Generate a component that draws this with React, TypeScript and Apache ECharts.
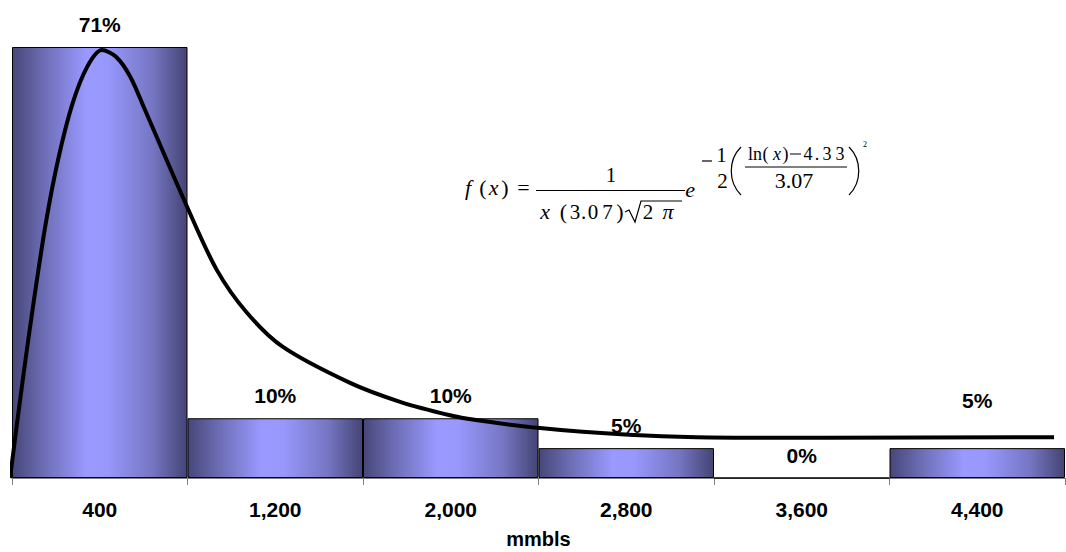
import React, { useEffect, useRef } from "react";
import * as echarts from "echarts";

const categories = ["400", "1,200", "2,000", "2,800", "3,600", "4,400"];
const shares = [0.707, 0.098, 0.098, 0.049, 0, 0.049];
const axisName = "mmbls";
// lognormal fit curve (x in mmbls, y as share)
const curveX = [-9, 46, 100, 155, 210, 274, 342, 410, 474, 538, 606, 798, 934, 1071, 1235, 1541, 1769, 1996, 2115, 2407, 2812, 3122, 3706, 4750];
const curveY = [0, 0.153, 0.292, 0.42, 0.522, 0.612, 0.674, 0.702, 0.691, 0.659, 0.604, 0.445, 0.341, 0.271, 0.215, 0.156, 0.125, 0.103, 0.095, 0.082, 0.071, 0.067, 0.066, 0.067];
const xMax = 4800;

const SERIF = "Liberation Serif";
const SANS = "Liberation Sans";

function t(text: string, cx: number, baseline: number, size: number, italic = false) {
  return {
    type: "text",
    x: cx,
    y: baseline - size * 0.33,
    style: {
      text,
      fontFamily: SERIF,
      fontSize: size,
      fontStyle: italic ? "italic" : "normal",
      fill: "#000",
      align: "center",
      verticalAlign: "middle",
    },
  };
}
function ln(x1: number, y1: number, x2: number, y2: number, w = 1.2) {
  return { type: "line", shape: { x1, y1, x2, y2 }, style: { stroke: "#000", lineWidth: w } };
}

export default function App() {
  const ref = useRef<HTMLDivElement>(null);
  useEffect(() => {
    const chart = echarts.init(ref.current!, null, { renderer: "svg" });
    const barGrad = new echarts.graphic.LinearGradient(0, 0, 1, 0, [
      { offset: 0, color: "#474779" },
      { offset: 0.18, color: "#6d6db5" },
      { offset: 0.42, color: "#9999ff" },
      { offset: 0.55, color: "#9797fc" },
      { offset: 0.8, color: "#7676c4" },
      { offset: 1, color: "#444474" },
    ]);
    const formula = [
      t("f", 468, 195, 22, true),
      t("(", 483, 195, 22),
      t("x", 493.5, 195, 22, true),
      t(")", 505, 195, 22),
      t("=", 523.5, 195, 22),
      ln(536, 190.5, 685, 190.5),
      t("1", 611, 182, 21),
      t("x", 545, 219, 22, true),
      t("(", 563.5, 219, 22),
      t("3", 575, 219, 21),
      t(".", 583.5, 219, 21),
      t("0", 593, 219, 21),
      t("7", 607.5, 219, 21),
      t(")", 620, 219, 22),
      {
        type: "polyline",
        shape: { points: [[625, 212], [629, 210], [635, 222], [641, 201], [682, 201]] },
        style: { stroke: "#000", lineWidth: 1.2, fill: null },
      },
      t("2", 648, 219, 21),
      t("π", 668, 219, 22, true),
      t("e", 690, 197, 22, true),
      ln(702, 161, 712, 161),
      t("1", 721.5, 162, 20),
      t("2", 722.5, 188, 21),
      {
        type: "bezierCurve",
        shape: { x1: 741, y1: 147, cpx1: 728, cpy1: 160, cpx2: 728, cpy2: 182, x2: 741, y2: 195 },
        style: { stroke: "#000", lineWidth: 1.2, fill: null },
      },
      t("ln", 755, 160, 18),
      t("(", 765.5, 160, 18),
      t("x", 777, 160, 18, true),
      t(")", 785.5, 160, 18),
      ln(790, 154, 801, 154, 1),
      t("4", 808, 160, 18),
      t(".", 817, 160, 18),
      t("3", 827, 160, 18),
      t("3", 840, 160, 18),
      ln(745, 167, 847, 167, 1),
      t("3.07", 794, 188, 22),
      {
        type: "bezierCurve",
        shape: { x1: 849, y1: 147, cpx1: 862, cpy1: 160, cpx2: 862, cpy2: 182, x2: 849, y2: 195 },
        style: { stroke: "#000", lineWidth: 1.2, fill: null },
      },
      t("2", 865, 147, 8),
    ];
    const raise: Record<number, number> = { 5: -25 };
    chart.setOption({
      animation: false,
      grid: { left: 12, right: 1, top: 47, bottom: 74, outerBoundsMode: "none", containLabel: false },
      xAxis: [
        {
          type: "category",
          data: categories,
          boundaryGap: true,
          axisLine: { lineStyle: { color: "#808080", width: 1 } },
          axisTick: { show: true, length: 7, lineStyle: { color: "#808080" } },
          axisLabel: { fontFamily: SANS, fontWeight: "bold", fontSize: 21, color: "#000", margin: 21 },
          name: axisName,
          nameLocation: "middle",
          nameGap: 51,
          nameTextStyle: { fontFamily: SANS, fontWeight: "bold", fontSize: 20, color: "#000" },
        },
        { type: "value", min: 0, max: xMax, show: false },
      ],
      yAxis: { type: "value", min: 0, max: shares[0], show: false, splitLine: { show: false } },
      series: [
        {
          type: "bar",
          xAxisIndex: 0,
          barWidth: "100%",
          barCategoryGap: 0,
          data: shares.map((v, i) => (raise[i] ? { value: v, label: { offset: [0, raise[i]] } } : v)),
          itemStyle: { color: barGrad, borderColor: "#000", borderWidth: 1 },
          label: {
            show: true,
            position: "top",
            distance: 12,
            fontFamily: SANS,
            fontWeight: "bold",
            fontSize: 21,
            color: "#000",
            formatter: (p: any) => Math.round(p.value * 100) + "%",
          },
          z: 2,
        },
        {
          type: "line",
          xAxisIndex: 1,
          data: curveX.map((x, i) => [x, curveY[i]]),
          smooth: 0.3,
          symbol: "none",
          clip: false,
          lineStyle: { color: "#000", width: 4 },
          z: 3,
        },
      ],
      graphic: formula,
    });
    return () => chart.dispose();
  }, []);
  return (
    <div
      ref={ref}
      style={{ position: "fixed", left: 0, top: 0, width: 1066, height: 552, background: "#fff" }}
    />
  );
}
